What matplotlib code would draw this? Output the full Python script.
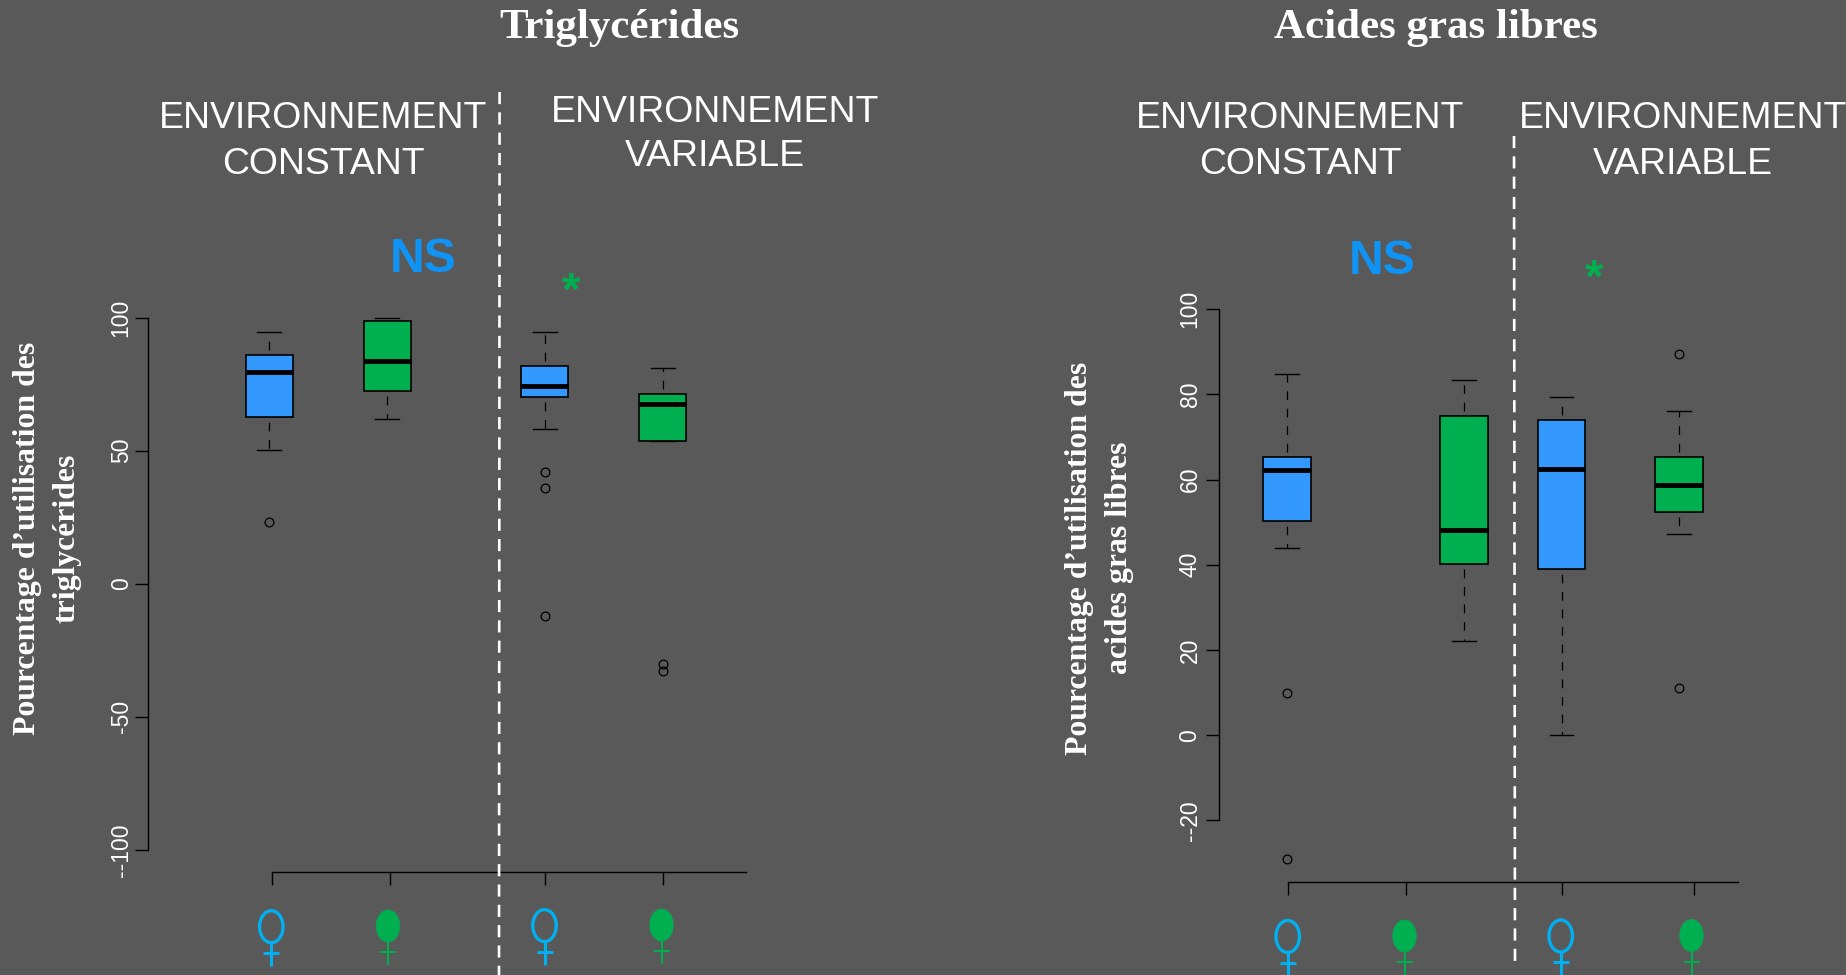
# -*- coding: utf-8 -*-
# %% imports

from matplotlib import pyplot as plt
from matplotlib.patches import Ellipse

# %% data, boxes in order: blue / green (constant), blue / green (variable)

tri_med = [79.6, 83.5, 74.3, 67.6]
tri_q1 = [62.8, 72.4, 70.2, 53.5]
tri_q3 = [86.1, 98.8, 81.7, 71.2]
tri_low = [50.2, 61.9, 58.0, 53.8]
tri_high = [94.5, 100.0, 94.5, 81.2]
tri_out = [[23.1], [], [42.0, 35.9, -12.1], [-30.0, -32.6]]
tri_ticks = [-100, -50, 0, 50, 100]
tri_ticklabels = ['--100', '-50', '0', '50', '100']

agl_med = [62.3, 48.1, 62.6, 58.8]
agl_q1 = [50.2, 40.2, 39.1, 52.5]
agl_q3 = [65.3, 75.0, 74.0, 65.3]
agl_low = [43.9, 22.2, 0.0, 47.3]
agl_high = [84.7, 83.4, 79.3, 76.0]
agl_out = [[10.0, -29.0], [], [], [89.6, 11.1]]
agl_ticks = [-20, 0, 20, 40, 60, 80, 100]
agl_ticklabels = ['--20', '0', '20', '40', '60', '80', '100']

# %% layout (pixels of the 1846x975 picture)

W, H = 1846, 975
BG = '#595959'
BLUE = '#3399FF'
GREEN = '#00B050'
SYM_BLUE = '#00B0F0'
NS_BLUE = '#0F94F5'
box_colors = [BLUE, GREEN, BLUE, GREEN]

plt.rcParams['font.family'] = ['Liberation Sans', 'DejaVu Sans']
fig = plt.figure(figsize=(W / 100, H / 100), dpi=100, facecolor=BG)


def draw_panel(med, q1, q3, low, high, out, box_x, tick_x, yticks, ylabels,
               spine_x, axis_y, axis_end, y_top_px, y_bot_px, box_w, label_pad):
    px_per_unit = (y_bot_px - y_top_px) / (yticks[-1] - yticks[0])
    top_px = y_top_px - 20
    ax = fig.add_axes([spine_x / W, 1 - axis_y / H, (axis_end + 20 - spine_x) / W,
                       (axis_y - top_px) / H])
    ax.patch.set_alpha(0)
    ax.set_xlim(spine_x, axis_end + 20)
    ax.set_ylim(yticks[0] - (axis_y - y_bot_px) / px_per_unit,
                yticks[-1] + (y_top_px - top_px) / px_per_unit)

    stats = []
    for i in range(4):
        stats.append({'med': med[i], 'q1': q1[i], 'q3': q3[i],
                      'whislo': low[i], 'whishi': high[i], 'fliers': out[i]})
    res = ax.bxp(stats, positions=box_x, widths=box_w, patch_artist=True,
                 manage_ticks=False,
                 boxprops=dict(edgecolor='black', linewidth=1.2),
                 medianprops=dict(color='black', linewidth=3.5, solid_capstyle='butt'),
                 whiskerprops=dict(color='black', linewidth=0.9, linestyle=(10, (7, 7))),
                 capprops=dict(color='black', linewidth=1.0),
                 capwidths=box_w / 2,
                 flierprops=dict(marker='o', markerfacecolor='none', markeredgecolor='black',
                                 markersize=6.3, markeredgewidth=0.9))
    for patch, col in zip(res['boxes'], box_colors):
        patch.set_facecolor(col)

    for s in ['top', 'right']:
        ax.spines[s].set_visible(False)
    ax.spines['left'].set_bounds(yticks[0], yticks[-1])
    ax.spines['bottom'].set_bounds(tick_x[0], axis_end)
    ax.spines['left'].set_linewidth(1.0)
    ax.spines['bottom'].set_linewidth(1.0)
    ax.set_yticks(yticks)
    ax.set_yticklabels(ylabels, rotation=90, va='center', color='white', fontsize=16.5)
    ax.set_xticks(tick_x)
    ax.set_xticklabels([])
    ax.tick_params(axis='both', length=9.5, width=1.0, color='black')
    ax.tick_params(axis='y', pad=label_pad)
    return ax


# %% panels

draw_panel(tri_med, tri_q1, tri_q3, tri_low, tri_high, tri_out,
           [269, 387, 545, 663], [271.7, 389.6, 545, 662.8], tri_ticks, tri_ticklabels,
           148, 872, 746, 317.5, 850, 47, 1.5)
draw_panel(agl_med, agl_q1, agl_q3, agl_low, agl_high, agl_out,
           [1287, 1464, 1561.6, 1679], [1288, 1406, 1561.6, 1693.7], agl_ticks, agl_ticklabels,
           1218.6, 882, 1738, 309.3, 820.3, 47.5, 2.8)

# %% overlay in pixel coordinates: text, separators, symbols

ov = fig.add_axes([0, 0, 1, 1], zorder=5)
ov.set_xlim(0, W)
ov.set_ylim(H, 0)
ov.axis('off')

serif = ['Liberation Serif', 'DejaVu Serif']
ov.text(619, 28, 'Triglycérides', family=serif, weight='bold', fontsize=31, color='white', ha='center', va='center')
ov.text(1436, 28, 'Acides gras libres', family=serif, weight='bold', fontsize=31, color='white', ha='center', va='center')

for x, y1, y2, word in [(323.5, 119, 164, 'CONSTANT'), (715, 112, 157, 'VARIABLE'),
                        (1300, 119, 164, 'CONSTANT'), (1683, 119, 164, 'VARIABLE')]:
    ov.text(x, y1, 'ENVIRONNEMENT', fontsize=26.9, color='white', ha='center', va='center')
    ov.text(x, y2, word, fontsize=26.9, color='white', ha='center', va='center')

ov.text(423, 260, 'NS', fontsize=34.6, weight='bold', color=NS_BLUE, ha='center', va='center')
ov.text(1382, 262, 'NS', fontsize=34.6, weight='bold', color=NS_BLUE, ha='center', va='center')
ov.text(571, 293, '*', fontsize=34, weight='bold', color=GREEN, ha='center', va='center')
ov.text(1594, 280, '*', fontsize=34, weight='bold', color=GREEN, ha='center', va='center')

for x, y, s in [(28, 538, 'Pourcentage d’utilisation des'), (67, 538, 'triglycérides'),
                (1079, 558, 'Pourcentage d’utilisation des'), (1119, 558, 'acides gras libres')]:
    ov.text(x, y, s, family=serif, weight='bold', fontsize=22.9, color='white', rotation=90,
            ha='center', va='center')

ov.plot([499.6, 499], [92, 975], color='white', lw=1.9, linestyle=(0, (4.6, 3.1)))
ov.plot([1514, 1515], [136, 969], color='white', lw=1.9, linestyle=(0, (4.6, 3.1)))


def female(x, y, color, filled):
    # ring or disc with the small cross below
    lw = 2.2 if not filled else 1.5
    ov.add_patch(Ellipse((x, y), 23.5, 32, facecolor=color if filled else 'none',
                         edgecolor=color, linewidth=2.4 if not filled else 0.5))
    ov.plot([x, x], [y + 16, y + 39], color=color, lw=lw, solid_capstyle='butt')
    ov.plot([x - 8, x + 8], [y + 26, y + 26], color=color, lw=lw, solid_capstyle='butt')


female(271.3, 926.7, SYM_BLUE, False)
female(388, 926, GREEN, True)
female(544.5, 925.6, SYM_BLUE, False)
female(661.5, 925, GREEN, True)
female(1287.7, 936.5, SYM_BLUE, False)
female(1404.5, 936, GREEN, True)
female(1560.7, 936, SYM_BLUE, False)
female(1691.5, 935.5, GREEN, True)

plt.savefig('out.png', dpi=100, facecolor=BG)
